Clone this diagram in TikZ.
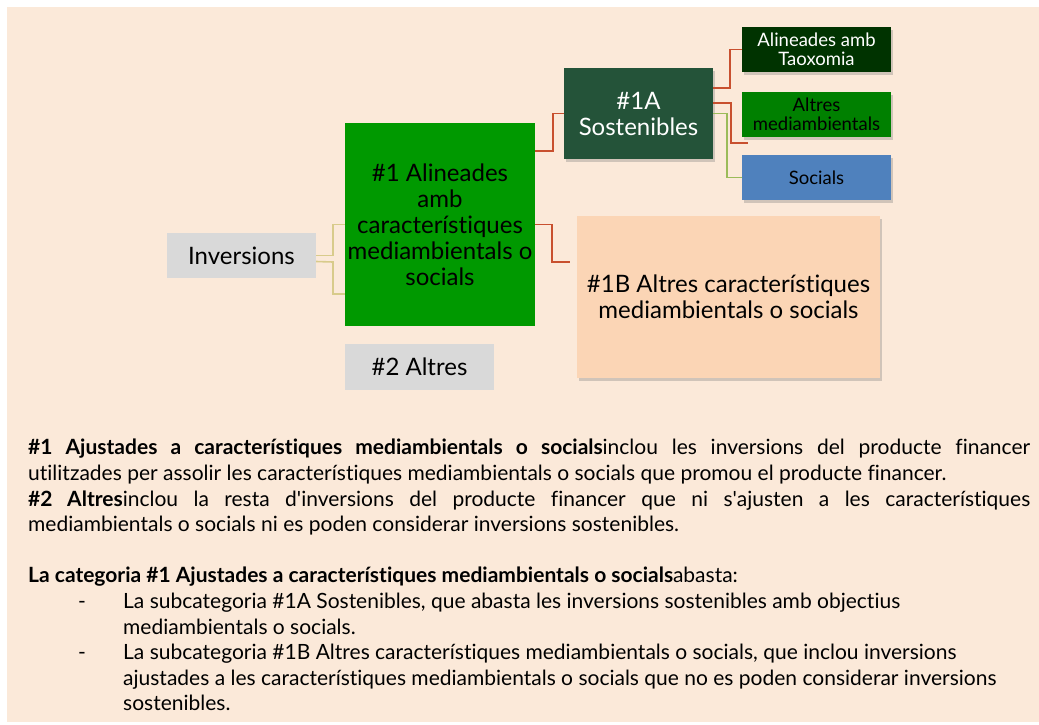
\documentclass[tikz,border=0pt]{standalone}
\usepackage{fontspec}
\setmainfont{Lato}[Ligatures=NoCommon]
\usepackage{tikz}
\usetikzlibrary{shadows, calc, positioning}
\definecolor{fons}{HTML}{FBE9D9}
\definecolor{gris}{HTML}{D9D9D9}
\definecolor{verd}{HTML}{009900}
\definecolor{verdfosc}{HTML}{245339}
\definecolor{taxo}{HTML}{003300}
\definecolor{verdmig}{HTML}{008000}
\definecolor{blau}{HTML}{4F81BD}
\definecolor{salmo}{HTML}{FBD5B5}
\definecolor{vermell}{HTML}{C8502F}
\definecolor{oliva}{HTML}{9BBB59}
\definecolor{palla}{HTML}{D8CB8B}

\begin{document}
\begin{tikzpicture}[x=1pt, y=-1pt]
% TikZ styles
\tikzset{
  base/.style={rectangle, inner sep=2pt, align=center, font=\fontsize{24}{26}\selectfont},
  greybox/.style={base, fill=gris, minimum width=149pt, minimum height=45pt},
  mainbox/.style={base, fill=verd, minimum width=190pt, minimum height=203pt},
  subbox/.style={base, drop shadow={shadow xshift=2pt, shadow yshift=-2.5pt, opacity=0.35}},
  leaf/.style={subbox, minimum width=149pt, minimum height=45pt, font=\fontsize{18.5}{19}\selectfont},
  linkred/.style={draw=vermell, line width=1.6pt},
  linkgreen/.style={draw=oliva, line width=1.6pt},
  linkyel/.style={draw=palla, line width=1.6pt}
};
\useasboundingbox (0,0) rectangle (1039,724);
\fill[fons] (7,7) rectangle (1039,722);

%==========================
% Esquema
%==========================
\node[greybox] (inv) at (241.5,255.5) {Inversions};
\node[mainbox] (alig) at (440,224.5) {\#1 Alineades\\amb\\característiques\\mediambientals o\\socials};
\node[greybox, minimum height=46pt] (altres) at (419.5,367) {\#2 Altres};

\node[subbox, fill=verdfosc, text=white, minimum width=149pt, minimum height=91pt] (sost) at (638.5,113.5) {\#1A\\Sostenibles};
\node[subbox, fill=salmo, minimum width=303pt, minimum height=162pt] (altcar) at (728.5,297) {\#1B Altres característiques\\mediambientals o socials};

\node[leaf, fill=taxo, text=white] (taxo) at (816.5,49.5) {Alineades amb\\Taoxomia};
\node[leaf, fill=verdmig] (altmed) at (816.5,114.5) {Altres\\mediambientals};
\node[leaf, fill=blau] (soc) at (816.5,177.5) {Socials};

\coordinate (invjoin) at (333,262);

% === Connectors ===
\draw[linkyel] (inv.east) -- (inv.east -| invjoin) |- (alig.west);
\draw[linkyel] ([yshift=-6pt]inv.east) -- (invjoin) |- ([yshift=-69.5pt]alig.west);

\draw[linkred] ([yshift=73.5pt]alig.east) -- ++(18,0) |- (sost.west);
\draw[linkred] (alig.east) -- ++(17,0) |- ([xshift=-7pt, yshift=35pt]altcar.west);

\draw[linkred] ([yshift=25.5pt]sost.east) -- ++(17,0) |- (taxo.west);
\draw[linkred] ([yshift=10.5pt]sost.east) -- ++(18,0) |- ([xshift=6pt, yshift=-28.5pt]altmed.west);
\draw[linkgreen] (sost.east) -- ++(14,0) |- (soc.west);

%==========================
% Text explicatiu
%==========================
\node[anchor=north west, inner sep=0pt, text width=1002pt, align=justify, font=\fontsize{21}{25.6}\selectfont] (nota) at (28,439) {%
\textbf{\#1 Ajustades a característiques mediambientals o socials}inclou les inversions del producte financer\linebreak
utilitzades per assolir les característiques mediambientals o socials que promou el producte financer.\par
\textbf{\#2 Altres}inclou la resta d\textquotesingle inversions del producte financer que ni s\textquotesingle ajusten a les característiques\linebreak
mediambientals o socials ni es poden considerar inversions sostenibles.\par
\vskip 25.6pt
\textbf{La categoria \#1 Ajustades a característiques mediambientals o socials}abasta:\par
\hspace*{50pt}\makebox[45pt][l]{-}La subcategoria \#1A Sostenibles, que abasta les inversions sostenibles amb objectius\par
\hspace*{95pt}mediambientals o socials.\par
\hspace*{50pt}\makebox[45pt][l]{-}La subcategoria \#1B Altres característiques mediambientals o socials, que inclou inversions\par
\hspace*{95pt}ajustades a les característiques mediambientals o socials que no es poden considerar inversions\par
\hspace*{95pt}sostenibles.\par};
\end{tikzpicture}
\end{document}
